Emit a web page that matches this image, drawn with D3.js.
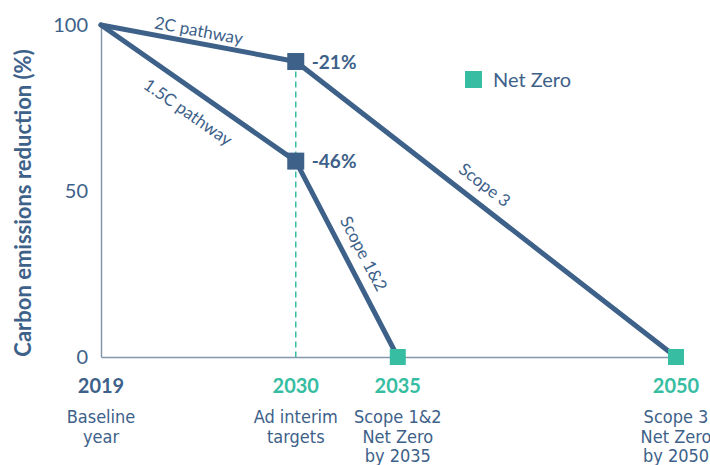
<!DOCTYPE html>
<html><head><meta charset="utf-8">
<script src="https://cdn.jsdelivr.net/npm/d3@7"></script>
<style>
html,body{margin:0;padding:0;background:#fff;}
svg{display:block;}
</style></head>
<body>
<svg id="chart" width="710" height="465"></svg>
<script>
// ---- data ----
const yearPositions = [2019, 2029.5, 2035, 2050]; // x positions as drawn in the picture
const yearLabels = ["2019", "2030", "2035", "2050"];
const yearSubLabels = [["Baseline", "year"], ["Ad interim", "targets"], ["Scope 1&2", "Net Zero", "by 2035"], ["Scope 3", "Net Zero", "by 2050"]];
const yearLabelIsKey = [false, true, true, true];
const yTicks = [0, 50, 100];
const path2C = [[2019, 100], [2029.5, 89], [2050, 0]];
const path15C = [[2019, 100], [2029.5, 59], [2035, 0]];
const interimPoints = [[2029.5, 89, "-21%"], [2029.5, 59, "-46%"]];
const netZeroPoints = [[2035, 0], [2050, 0]];
const legendLabel = "Net Zero";
const yTitle = "Carbon emissions reduction (%)";

const DARK = "#3d6189", TEAL = "#36bda2", AXIS = "#8597ad";
const FONT = "Lato, 'Open Sans', sans-serif";
const NARROW = "'Liberation Sans Narrow', 'DejaVu Sans Condensed', Lato, sans-serif";

const svg = d3.select("#chart");
const x = d3.scaleLinear().domain([2019, 2050]).range([101, 676]);
const y = d3.scaleLinear().domain([0, 100]).range([357, 25]);

// y axis
const yAxis = svg.append("g").attr("transform", `translate(${x(2019)},0)`)
  .call(d3.axisLeft(y).tickValues(yTicks).tickSize(0).tickPadding(13).tickFormat(d3.format("d")));
yAxis.select(".domain").attr("stroke", AXIS).attr("stroke-width", 1.5);
yAxis.selectAll("text").attr("fill", DARK).style("font-family", FONT).style("font-size", "20px");

// x axis line
const xAxis = svg.append("g").attr("transform", `translate(0,${y(0)})`)
  .call(d3.axisBottom(x).tickValues([]).tickSize(0).tickSizeOuter(0));
xAxis.select(".domain").attr("stroke", AXIS).attr("stroke-width", 1.5);

// y title
svg.append("text")
  .attr("transform", `translate(25,${(y(0) + y(100)) / 2 + 12}) rotate(-90)`)
  .attr("text-anchor", "middle").attr("dominant-baseline", "middle")
  .style("font-family", FONT).style("font-weight", "bold").style("font-size", "22px")
  .attr("fill", DARK).text(yTitle);

// dashed interim line
svg.append("line")
  .attr("x1", x(interimPoints[0][0])).attr("x2", x(interimPoints[0][0]))
  .attr("y1", y(interimPoints[0][1])).attr("y2", y(0))
  .attr("stroke", TEAL).attr("stroke-width", 1.5).attr("stroke-dasharray", "6,4");

// pathways
const line = d3.line().x(d => x(d[0])).y(d => y(d[1]));
[path2C, path15C].forEach(p => {
  svg.append("path").datum(p).attr("d", line)
    .attr("fill", "none").attr("stroke", DARK).attr("stroke-width", 5)
    .attr("stroke-linejoin", "round").attr("stroke-linecap", "round");
});

// interim markers
const ms = 17;
svg.selectAll(".interim").data(interimPoints).join("rect")
  .attr("x", d => x(d[0]) - ms / 2).attr("y", d => y(d[1]) - ms / 2)
  .attr("width", ms).attr("height", ms).attr("fill", DARK);
svg.selectAll(".interimLbl").data(interimPoints).join("text")
  .attr("x", d => x(d[0]) + 16).attr("y", d => y(d[1]) + 7)
  .style("font-family", FONT).style("font-weight", "bold").style("font-size", "19px")
  .attr("fill", DARK).text(d => d[2]);

// net zero markers
const ns = 16;
svg.selectAll(".nz").data(netZeroPoints).join("rect")
  .attr("x", d => x(d[0]) - ns / 2).attr("y", d => y(d[1]) - ns / 2)
  .attr("width", ns).attr("height", ns).attr("fill", TEAL);

// line labels
function segLabel(a, b, t, off, txt) {
  const x1 = x(a[0]), y1 = y(a[1]), x2 = x(b[0]), y2 = y(b[1]);
  const dx = x2 - x1, dy = y2 - y1, len = Math.hypot(dx, dy);
  const ux = dx / len, uy = dy / len;
  const cx = x1 + dx * t + uy * off, cy = y1 + dy * t - ux * off;
  const ang = Math.atan2(dy, dx) * 180 / Math.PI;
  svg.append("text")
    .attr("transform", `translate(${cx},${cy}) rotate(${ang})`)
    .attr("text-anchor", "middle").attr("dominant-baseline", "central")
    .style("font-family", FONT).style("font-size", "17px")
    .attr("fill", DARK).text(txt);
}
segLabel(path2C[0], path2C[1], 0.49, 13, "2C pathway");
segLabel(path15C[0], path15C[1], 0.51, -21, "1.5C pathway");
segLabel(path2C[1], path2C[2], 0.467, 19, "Scope 3");
segLabel(path15C[1], path15C[2], 0.514, 18, "Scope 1&2");

// legend
svg.append("rect").attr("x", 465).attr("y", 71).attr("width", ms).attr("height", ms).attr("fill", TEAL);
svg.append("text").attr("x", 493).attr("y", 87)
  .style("font-family", FONT).style("font-size", "20px").attr("fill", DARK).text(legendLabel);

// x labels
yearPositions.forEach((yr, i) => {
  const g = svg.append("g").attr("transform", `translate(${x(yr)},0)`);
  g.append("text").attr("y", 393).attr("text-anchor", "middle")
    .style("font-family", FONT).style("font-weight", "bold").style("font-size", "20px")
    .attr("fill", yearLabelIsKey[i] ? TEAL : DARK).text(yearLabels[i]);
  yearSubLabels[i].forEach((s, j) => {
    g.append("text").attr("y", 423 + j * 19.5).attr("text-anchor", "middle")
      .style("font-family", NARROW).style("font-size", "18px")
      .attr("fill", DARK).text(s);
  });
});
</script>
</body></html>
